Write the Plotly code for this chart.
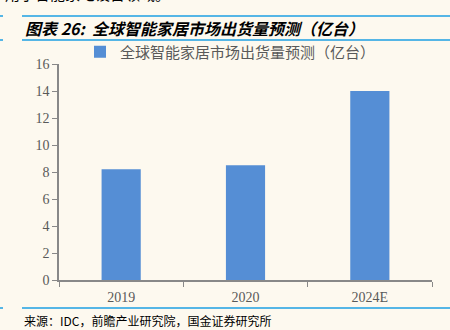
import plotly.graph_objects as go

categories = ["2019", "2020", "2024E"]
shipments = [8.2, 8.5, 14.0]
series_name = "全球智能家居市场出货量预测（亿台）"
y_ticks = [0, 2, 4, 6, 8, 10, 12, 14, 16]

title_text = "图表 26:&nbsp;&nbsp;全球智能家居市场出货量预测（亿台）"
source_text = "来源：IDC，前瞻产业研究院，国金证券研究所"
top_fragment = "用于智能家电设备领域。"

W, H = 450, 330
L, R, T, B = 59, 18, 64, 50
bg = "#FDF9EF"
line_blue = "#55B6E6"
gray = "#595959"

fig = go.Figure()
fig.add_trace(go.Bar(
    x=categories, y=shipments, name=series_name,
    marker=dict(color="#558ED5", line=dict(width=0)),
    width=0.315, showlegend=True,
))


def ax(xp):
    return (xp - L) / (W - L - R)


def ay(yp):
    return (H - B - yp) / (H - T - B)


shapes = []
for y in (16, 40, 308):
    shapes.append(dict(type="line", xref="paper", yref="paper",
                       x0=ax(22), x1=ax(W), y0=ay(y), y1=ay(y),
                       line=dict(color=line_blue, width=2)))
    shapes.append(dict(type="line", xref="paper", yref="paper",
                       x0=ax(0), x1=ax(3), y0=ay(y), y1=ay(y),
                       line=dict(color=line_blue, width=2)))

annotations = [
    dict(text="<b><i>" + title_text + "</i></b>", xref="paper", yref="paper",
         x=ax(23), y=ay(28), xanchor="left", yanchor="middle", showarrow=False,
         font=dict(family="Noto Sans CJK SC", size=16, color="#000000")),
    dict(text=source_text, xref="paper", yref="paper",
         x=ax(22), y=ay(320), xanchor="left", yanchor="middle", showarrow=False,
         font=dict(family="Noto Sans CJK SC", size=12, color="#000000")),
    dict(text=top_fragment, xref="paper", yref="paper",
         x=ax(3), y=ay(-6), xanchor="left", yanchor="middle", showarrow=False,
         font=dict(family="Noto Sans CJK SC", size=15, color="#000000")),
]

fig.update_layout(
    width=W, height=H,
    margin=dict(l=L, r=R, t=T, b=B, pad=0),
    paper_bgcolor=bg, plot_bgcolor=bg,
    shapes=shapes, annotations=annotations,
    showlegend=True,
    legend=dict(orientation="h", x=ax(80), y=ay(52), xanchor="left", yanchor="middle",
                bgcolor="rgba(0,0,0,0)", itemwidth=30,
                font=dict(family="Noto Sans CJK SC", size=15, color=gray)),
    bargap=0.685,
    xaxis=dict(showline=True, linecolor="#888888", linewidth=1.5,
               ticks="outside", tickson="boundaries", ticklen=5, tickcolor="#888888",
               ticklabelstandoff=3,
               tickfont=dict(family="Liberation Serif", size=14, color=gray),
               showgrid=False, zeroline=False),
    yaxis=dict(range=[0, 16], tickvals=y_ticks, showline=True, linecolor="#888888",
               linewidth=1.5, ticks="outside", ticklen=5, tickcolor="#888888",
               tickfont=dict(family="Liberation Serif", size=14, color=gray),
               showgrid=False, zeroline=False),
)

fig.write_html("out.html")
